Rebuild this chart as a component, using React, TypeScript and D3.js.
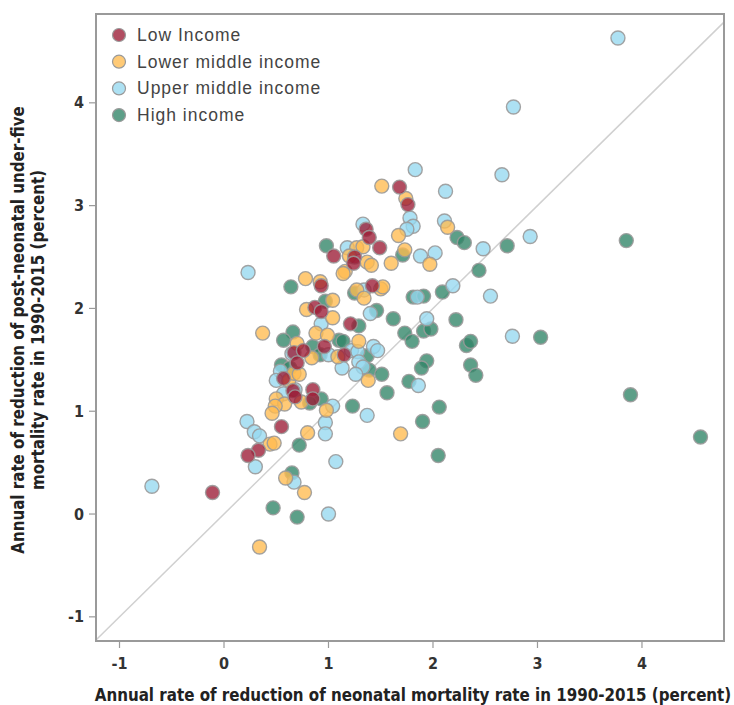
import React from "react";
import * as d3 from "d3";

const W = 734;
const H = 705;

const categories = ["Low Income", "Lower middle income", "Upper middle income", "High income"];
const colors = ["#9b1b35", "#ffbb4f", "#96d8f0", "#2f8466"];

const xTicks = [-1, 0, 1, 2, 3, 4];
const yTicks = [-1, 0, 1, 2, 3, 4];

const lowIncome: [number, number][] = [
  [1.05, 2.51], [1.36, 2.77], [1.39, 2.69], [1.49, 2.59], [1.25, 2.5], [1.24, 2.44],
  [0.93, 2.22], [1.42, 2.22], [0.87, 2.01], [0.93, 1.97], [1.21, 1.85], [0.96, 1.63],
  [0.67, 1.57], [0.76, 1.59], [1.15, 1.55], [0.7, 1.47], [0.57, 1.32], [0.66, 1.2],
  [0.68, 1.14], [0.85, 1.21], [0.85, 1.12], [0.55, 0.85], [0.33, 0.62], [0.23, 0.57],
  [-0.11, 0.21], [1.68, 3.18], [1.76, 3.01],
];

const lowerMiddle: [number, number][] = [
  [1.51, 3.19], [1.27, 2.59], [1.33, 2.6], [1.2, 2.51], [1.37, 2.45], [1.41, 2.42],
  [1.16, 2.36], [1.14, 2.34], [0.78, 2.29], [0.92, 2.26], [1.27, 2.18], [1.34, 2.1],
  [1.5, 2.19], [1.52, 2.21], [1.04, 2.08], [0.79, 1.99], [1.04, 1.91], [0.37, 1.76],
  [0.88, 1.76], [0.99, 1.74], [0.7, 1.66], [1.29, 1.68], [0.84, 1.52], [1.09, 1.53],
  [1.38, 1.3], [0.62, 1.3], [0.67, 1.37], [0.72, 1.36], [0.74, 1.09], [0.5, 1.12],
  [0.58, 1.07], [0.49, 1.05], [0.46, 0.98], [0.98, 1.01], [0.8, 0.79], [0.44, 0.68],
  [0.48, 0.69], [0.59, 0.35], [0.77, 0.21], [0.34, -0.32], [1.74, 3.07], [1.67, 2.71],
  [2.14, 2.79], [1.73, 2.57], [1.6, 2.44], [1.97, 2.43], [1.69, 0.78],
];

const upperMiddle: [number, number][] = [
  [0.23, 2.35], [1.33, 2.82], [1.18, 2.59], [1.34, 2.18], [1.4, 1.95], [0.93, 1.85],
  [1.43, 1.63], [1.47, 1.59], [1.22, 1.59], [1.28, 1.58], [0.65, 1.56], [1.0, 1.55],
  [1.29, 1.48], [1.33, 1.43], [1.26, 1.36], [1.13, 1.42], [0.54, 1.39], [0.5, 1.3],
  [0.57, 1.17], [0.68, 1.21], [1.04, 1.05], [1.37, 0.96], [0.22, 0.9], [0.97, 0.89],
  [0.29, 0.8], [0.34, 0.76], [0.97, 0.78], [1.07, 0.51], [0.3, 0.46], [0.67, 0.31],
  [1.0, 0.0], [-0.69, 0.27], [1.83, 3.35], [2.66, 3.3], [2.12, 3.14], [1.78, 2.88],
  [1.81, 2.8], [1.75, 2.77], [2.11, 2.85], [2.93, 2.7], [2.48, 2.58], [1.88, 2.51],
  [2.02, 2.54], [2.19, 2.22], [2.55, 2.12], [1.85, 2.11], [1.94, 1.9], [2.76, 1.73],
  [1.86, 1.25], [3.77, 4.63], [2.77, 3.96],
];

const highIncome: [number, number][] = [
  [0.98, 2.61], [0.64, 2.21], [1.25, 2.15], [0.97, 2.07], [1.46, 1.98], [1.29, 1.83],
  [0.66, 1.77], [0.57, 1.69], [0.85, 1.63], [1.1, 1.69], [1.14, 1.68], [0.92, 1.55],
  [1.37, 1.54], [1.39, 1.4], [0.55, 1.45], [0.63, 1.42], [0.93, 1.12], [0.82, 1.08],
  [1.23, 1.05], [0.72, 0.67], [0.65, 0.4], [0.47, 0.06], [0.7, -0.03], [2.23, 2.69],
  [2.3, 2.64], [2.71, 2.61], [1.71, 2.52], [2.44, 2.37], [1.81, 2.11], [1.91, 2.12],
  [2.09, 2.16], [1.62, 1.9], [2.22, 1.89], [1.91, 1.78], [1.98, 1.8], [1.73, 1.76],
  [1.8, 1.68], [3.03, 1.72], [2.32, 1.64], [2.36, 1.68], [1.94, 1.49], [1.89, 1.42],
  [1.51, 1.36], [2.36, 1.45], [2.41, 1.35], [1.77, 1.29], [1.56, 1.18], [2.06, 1.04],
  [1.9, 0.9], [2.05, 0.57], [3.85, 2.66], [3.89, 1.16], [4.56, 0.75],
];

const series = [lowIncome, lowerMiddle, upperMiddle, highIncome];
const drawOrder = [3, 2, 1, 0];

const condensed = "'Liberation Sans Narrow', 'DejaVu Sans Condensed', 'Arial Narrow', sans-serif";
const sans = "'Liberation Sans', Arial, Helvetica, sans-serif";

export default function App() {
  const left = 96, right = 724, top = 14, bottom = 641;
  const x = d3.scaleLinear().domain([-1.225, 4.785]).range([left, right]);
  const y = d3.scaleLinear().domain([-1.235, 4.864]).range([bottom, top]);
  const d0 = -1.225, d1 = 4.785;
  const diag = d3.line<number>().x((v) => x(v)).y((v) => y(v))([d0, d1]) || "";

  return (
    <svg width={W} height={H} style={{ position: "absolute", left: 0, top: 0 }}>
      <rect x={0} y={0} width={W} height={H} fill="#fff" />
      <path d={diag} stroke="#d0d0d0" strokeWidth={1.5} fill="none" />
      {drawOrder.map((si) => (
        <g key={si}>
          {series[si].map((p, i) => (
            <circle
              key={i}
              cx={x(p[0])}
              cy={y(p[1])}
              r={7}
              fill={colors[si]}
              fillOpacity={0.78}
              stroke="#9a9a9a"
              strokeOpacity={0.9}
              strokeWidth={1.4}
            />
          ))}
        </g>
      ))}
      <rect x={left} y={top} width={right - left} height={bottom - top} fill="none" stroke="#9a9a9a" strokeWidth={2} />
      {xTicks.map((t) => (
        <g key={"x" + t}>
          <line x1={x(t)} x2={x(t)} y1={bottom} y2={bottom + 7} stroke="#9a9a9a" strokeWidth={1.2} />
          <text x={x(t)} y={669} textAnchor="middle" fontFamily={condensed} fontWeight="bold" fontSize={16} fill="#333">
            {t}
          </text>
        </g>
      ))}
      {yTicks.map((t) => (
        <g key={"y" + t}>
          <line x1={left - 7} x2={left} y1={y(t)} y2={y(t)} stroke="#9a9a9a" strokeWidth={1.2} />
          <text x={84} y={y(t) + 5.5} textAnchor="end" fontFamily={condensed} fontWeight="bold" fontSize={16} fill="#333">
            {t}
          </text>
        </g>
      ))}
      <text x={413} y={701} textAnchor="middle" fontFamily={condensed} fontWeight="bold" fontSize={16.8} fill="#222">
        Annual rate of reduction of neonatal mortality rate in 1990-2015 (percent)
      </text>
      <g transform="translate(24,330) rotate(-90)">
        <text x={0} y={0} textAnchor="middle" fontFamily={condensed} fontWeight="bold" fontSize={16.8} fill="#222">
          Annual rate of reduction of post-neonatal under-five
        </text>
        <text x={0} y={20} textAnchor="middle" fontFamily={condensed} fontWeight="bold" fontSize={16.8} fill="#222">
          mortality rate in 1990-2015 (percent)
        </text>
      </g>
      {categories.map((c, i) => (
        <g key={c}>
          <circle cx={119} cy={35 + i * 26.7} r={6.5} fill={colors[i]} fillOpacity={0.78} stroke="#9a9a9a" strokeWidth={1.2} />
          <text x={137} y={41 + i * 26.7} fontFamily={sans} fontSize={17.5} letterSpacing={1} fill="#444">
            {c}
          </text>
        </g>
      ))}
    </svg>
  );
}
